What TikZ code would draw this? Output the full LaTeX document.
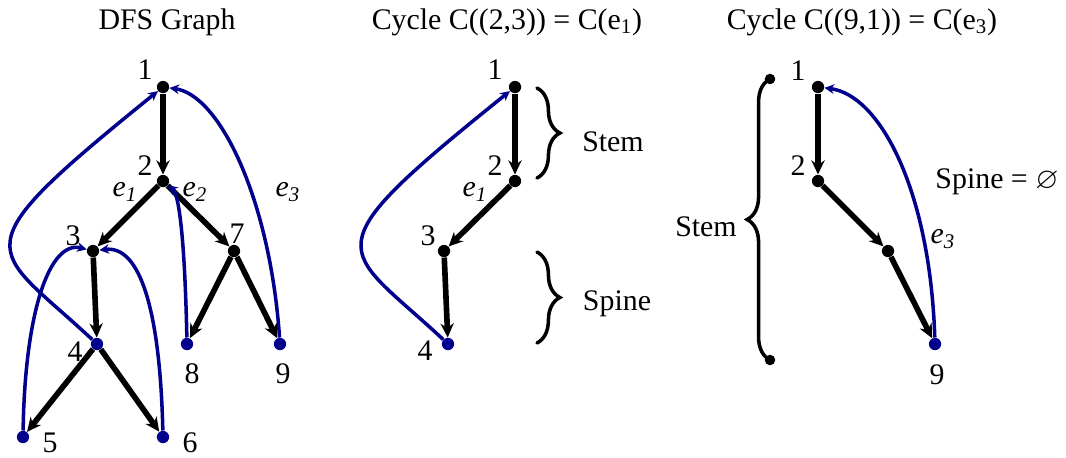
\documentclass[tikz,border=0pt]{standalone}
\usepackage{fontspec}
\setmainfont{Liberation Serif}
\usepackage{amssymb}
\usetikzlibrary{arrows.meta, decorations.pathreplacing}
\definecolor{backblue}{RGB}{0,0,140}

\tikzset{
  vtx/.style={circle, fill=black, inner sep=0pt, minimum size=7pt},
  leaf/.style={circle, fill=backblue, inner sep=0pt, minimum size=7pt},
  bracedot/.style={circle, fill=black, inner sep=0pt, minimum size=6pt},
  lbl/.style={font=\fontsize{17}{20}\selectfont, inner sep=0pt},
  treeedge/.style={line width=3.2pt, -{Stealth[length=8pt,width=7.5pt]}},
  backedge/.style={backblue, line width=2pt, -{Stealth[length=5.5pt,width=5.5pt]}},
  bracket/.style={line width=2pt, line cap=round, decorate, decoration={brace, amplitude=13pt}},
}

\begin{document}
\begin{tikzpicture}[x=0.02cm, y=-0.02cm]
    \useasboundingbox (0,0) rectangle (1066,457);
    % titles
    \node[lbl] (T1) at (167,22) {DFS Graph};
    \node[lbl] (T2) at (507,22) {Cycle C((2,3)) = C(e\textsubscript{1})};
    \node[lbl] (T3) at (862,22) {Cycle C((9,1)) = C(e\textsubscript{3})};

    % DFS graph
    \foreach \n/\x/\y in {1/163/87, 2/163/181, 3/93/251, 7/234/251}
        \node[vtx] (N\n) at (\x,\y) {};
    \foreach \n/\x/\y in {4/97/344, 8/187/344, 9/280/344, 5/23/437, 6/163/437}
        \node[leaf] (N\n) at (\x,\y) {};
    \foreach \n/\x/\y in {1/145/70, 2/145/166, 3/73/236, 7/237/234, 4/75/352, 8/192/374, 9/283/374, 5/50/443, 6/190/443}
        \node[lbl] (L\n) at (\x,\y) {\n};
    \draw[treeedge] (N1) -- (N2);
    \draw[treeedge] (N2) -- (N3);
    \draw[treeedge] (N2) -- (N7);
    \draw[treeedge] (N3) -- (N4);
    \draw[treeedge] (N4) -- (N5);
    \draw[treeedge] (N4) -- (N6);
    \draw[treeedge] (N7) -- (N8);
    \draw[treeedge] (N7) -- (N9);
    \draw[backedge] (N4) .. controls (-10,244) and (-45,255) .. (N1);
    \draw[backedge] (N5) .. controls (25,310) and (50,240) .. (N3);
    \draw[backedge] (N6) .. controls (160,310) and (140,245) .. (N3);
    \draw[backedge] (N8) .. controls (185,250) and (180,195) .. (N2);
    \draw[backedge] (N9) .. controls (270,200) and (220,95) .. (N1);
    \node[lbl] (E1) at (125,192) {\textit{e}\textsubscript{\textit{1}}};
    \node[lbl] (E2) at (195,192) {\textit{e}\textsubscript{\textit{2}}};
    \node[lbl] (E3) at (288,192) {\textit{e}\textsubscript{\textit{3}}};

    % cycle of e1
    \foreach \n/\x/\y in {1/515/87, 2/515/181, 3/444/251}
        \node[vtx] (A\n) at (\x,\y) {};
    \node[leaf] (A4) at (448,344) {};
    \foreach \n/\x/\y in {1/495/70, 2/495/166, 3/428/236, 4/425/351}
        \node[lbl] (LA\n) at (\x,\y) {\n};
    \draw[treeedge] (A1) -- (A2);
    \draw[treeedge] (A2) -- (A3);
    \draw[treeedge] (A3) -- (A4);
    \draw[backedge] (A4) .. controls (341,244) and (306,255) .. (A1);
    \node[lbl] (EA1) at (475,192) {\textit{e}\textsubscript{\textit{1}}};
    \coordinate (S1) at (537,88);
    \coordinate (S2) at (537,178);
    \coordinate (P1) at (537,252);
    \coordinate (P2) at (537,343);
    \draw[bracket] (S1) -- (S2);
    \draw[bracket] (P1) -- (P2);
    \node[lbl] (Stem1) at (613,142) {Stem};
    \node[lbl] (Spine1) at (617,304) {Spine};

    % cycle of e3
    \foreach \n/\x/\y in {1/818/87, 2/818/181, m/888/251}
        \node[vtx] (B\n) at (\x,\y) {};
    \node[leaf] (B9) at (935,344) {};
    \foreach \n/\x/\y in {1/798/71, 2/798/166, 9/937/375}
        \node[lbl] (LB\n) at (\x,\y) {\n};
    \draw[treeedge] (B1) -- (B2);
    \draw[treeedge] (B2) -- (Bm);
    \draw[treeedge] (Bm) -- (B9);
    \draw[backedge] (B9) .. controls (930,190) and (880,95) .. (B1);
    \node[lbl] (EB3) at (943,239) {\textit{e}\textsubscript{\textit{3}}};
    \node[lbl] (Spine2) at (997,182) {Spine = $\varnothing$};
    \node[bracedot] (K1) at (770,79) {};
    \node[bracedot] (K2) at (770,360) {};
    \draw[bracket] (K2.center) -- (K1.center);
    \node[lbl] (Stem2) at (706,227) {Stem};
\end{tikzpicture}
\end{document}
